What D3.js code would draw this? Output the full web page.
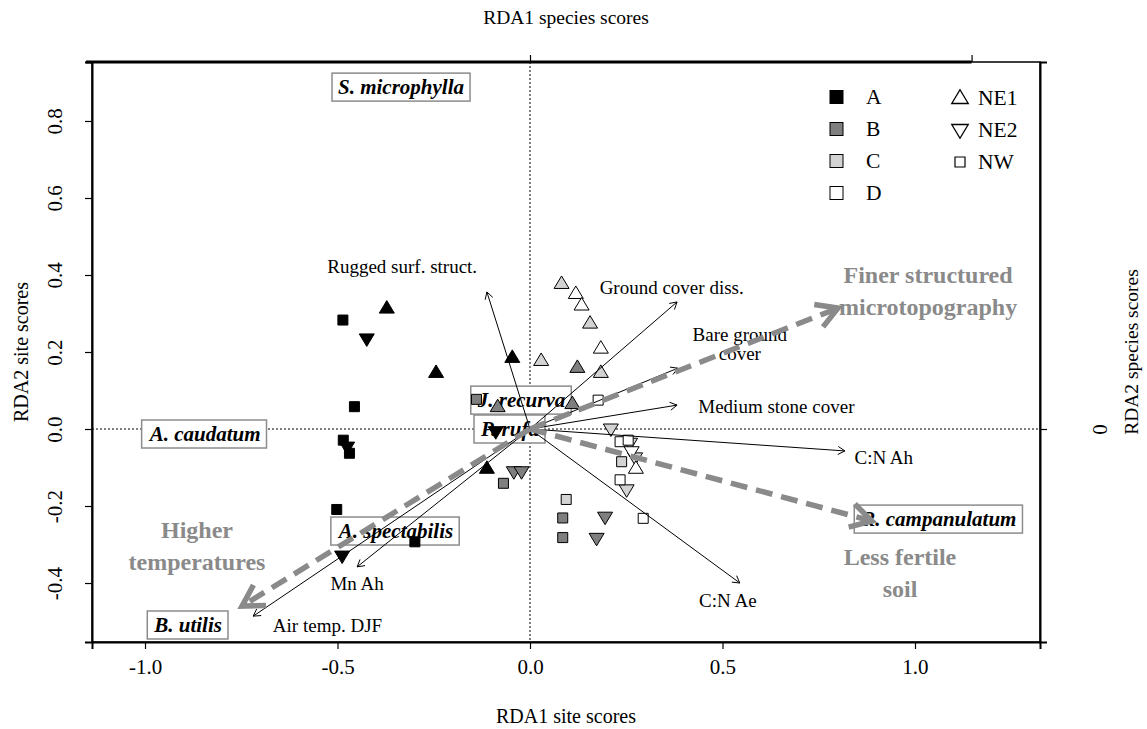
<!DOCTYPE html>
<html><head><meta charset="utf-8">
<script src="https://cdn.jsdelivr.net/npm/d3@7"></script>
<style>
body{margin:0;background:#fff}
text{font-family:"Liberation Serif","Times New Roman",serif;fill:#000}
</style>
</head><body>
<svg id="c" width="1147" height="729"></svg>
<script>
// ---- data ----
const siteX = [-0.486,-0.372,-0.424,-0.244,-0.046,-0.456,-0.485,-0.475,-0.469,-0.089,-0.112,-0.502,-0.299,-0.488,
  -0.139,-0.084,0.110,0.123,-0.042,-0.022,-0.069,0.085,0.085,0.195,0.173,
  0.029,0.082,0.156,0.184,0.210,0.094,0.251,0.238,0.260,0.273,
  0.119,0.134,0.184,0.177,0.234,0.255,0.264,0.275,0.234,0.294];
const siteY = [0.283,0.314,0.234,0.147,0.186,0.058,-0.029,-0.047,-0.063,-0.007,-0.102,-0.209,-0.293,-0.330,
  0.077,0.058,0.066,0.160,-0.111,-0.111,-0.141,-0.231,-0.282,-0.229,-0.284,
  0.178,0.378,0.275,0.147,0.000,-0.183,-0.158,-0.085,-0.037,-0.075,
  0.352,0.322,0.210,0.075,-0.033,-0.029,-0.059,-0.102,-0.132,-0.232];
const siteGroup = ["A","A","A","A","A","A","A","A","A","A","A","A","A","A",
  "B","B","B","B","B","B","B","B","B","B","B",
  "C","C","C","C","C","C","C","C","C","C",
  "D","D","D","D","D","D","D","D","D","D"];
const siteAspect = ["NW","NE1","NE2","NE1","NE1","NW","NW","NE2","NW","NE2","NE1","NW","NW","NE2",
  "NW","NE1","NE1","NE1","NE2","NE2","NW","NW","NW","NE2","NE2",
  "NE1","NE1","NE1","NE1","NE2","NW","NE2","NW","NE2","NE2",
  "NE1","NE1","NE1","NW","NW","NW","NE2","NE1","NW","NW"];

const envNames = ["Rugged surf. struct.","Ground cover diss.","Bare ground|cover","Medium stone cover","C:N Ah","C:N Ae","Mn Ah","Air temp. DJF"];
const envX = [-0.112,0.382,0.384,0.382,0.818,0.545,-0.449,-0.719];
const envY = [0.356,0.330,0.158,0.062,-0.057,-0.400,-0.358,-0.486];
const envLabX = [-0.332,0.368,0.545,0.640,0.919,0.514,-0.449,-0.526];
const envLabY = [0.423,0.369,0.222,0.060,-0.073,-0.444,-0.400,-0.509];

const speciesNames = ["S. microphylla","A. caudatum","J. recurva","P. rufa","A. spectabilis","B. utilis","R. campanulatum"];
const speciesX = [-0.335,-0.844,-0.022,-0.052,-0.348,-0.888,1.062];
const speciesY = [0.888,-0.013,0.075,0.000,-0.265,-0.509,-0.234];

const trendNames = ["Finer structured|microtopography","Less fertile|soil","Higher|temperatures"];
const trendX = [0.800,0.888,-0.748];
const trendY = [0.314,-0.239,-0.460];
const trendLabX = [1.034,0.961,-0.865];
const trendLabY = [0.358,-0.374,-0.304];

const xTicks = [-1.0,-0.5,0.0,0.5,1.0];
const yTicks = [-0.4,-0.2,0.0,0.2,0.4,0.6,0.8];
const topTicks = [0.0,1.147];
const rightTicks = [0.0];

const groupFill = {A:"#000000",B:"#7f7f7f",C:"#d3d3d3",D:"#ffffff"};
const legendGroups = ["A","B","C","D"];
const legendAspects = ["NE1","NE2","NW"];

// ---- layout ----
const L=92,R=1040,T=62,B=642;
const x = d3.scaleLinear().domain([-1.1377,1.3247]).range([L,R]);
const y = d3.scaleLinear().domain([-0.5532,0.9532]).range([B,T]);
const svg = d3.select("#c");
const gray = "#8a8a8a";
const fmt = d => d3.format(".1f")(d).replace("\u2212","-");

function shapePath(a){
  if(a==="NE1") return "M0,-7.5L7.5,5L-7.5,5Z";
  if(a==="NE2") return "M0,7.5L7.5,-5L-7.5,-5Z";
  return "M-5,-5H5V5H-5Z";
}

// zero lines
svg.append("line").attr("x1",x(0)).attr("x2",x(0)).attr("y1",T).attr("y2",B)
  .attr("stroke","#000").attr("stroke-width",1).attr("stroke-dasharray","2,2");
svg.append("line").attr("x1",L).attr("x2",R).attr("y1",y(0)).attr("y2",y(0))
  .attr("stroke","#000").attr("stroke-width",1).attr("stroke-dasharray","2,2");

// axes
const fs = 21;
const gx = svg.append("g").attr("transform",`translate(0,${B})`)
  .call(d3.axisBottom(x).tickValues(xTicks).tickFormat(fmt).tickSize(7).tickPadding(10));
const gy = svg.append("g").attr("transform",`translate(${L},0)`)
  .call(d3.axisLeft(y).tickValues(yTicks).tickFormat(fmt).tickSize(7).tickPadding(0));
gy.selectAll(".tick text").attr("transform","rotate(-90)").attr("x",0).attr("y",-30)
  .attr("dy","0").attr("text-anchor","middle").attr("dominant-baseline","auto");
const gt = svg.append("g").attr("transform",`translate(0,${T})`)
  .call(d3.axisTop(x).tickValues(topTicks).tickSize(7).tickFormat(""));
const gr = svg.append("g").attr("transform",`translate(${R},0)`)
  .call(d3.axisRight(y).tickValues(rightTicks).tickSize(7).tickFormat(d3.format("d")));
gr.selectAll(".tick text").attr("transform","rotate(-90)").attr("x",0).attr("y",67)
  .attr("dy","0").attr("text-anchor","middle").attr("dominant-baseline","auto");
[gx,gy,gt,gr].forEach(g=>{
  g.selectAll("text").style("font-family","Liberation Serif").style("font-size",fs+"px").attr("fill","#000");
  g.selectAll("line").attr("stroke","#000").attr("stroke-width",1.2);
  g.select(".domain").attr("stroke","#000").attr("stroke-width",2);
});
gt.select(".domain").attr("d",`M${L-6},0H${x(topTicks[1])}`).attr("stroke-width",3);

// box
svg.append("rect").attr("x",L).attr("y",T).attr("width",R-L).attr("height",B-T)
  .attr("fill","none").attr("stroke","#000").attr("stroke-width",1.5);

// axis titles
svg.append("text").attr("x",(L+R)/2).attr("y",716).attr("text-anchor","middle")
  .attr("dominant-baseline","central").style("font-size","20px").text("RDA1 site scores");
svg.append("text").attr("x",(L+R)/2).attr("y",17).attr("text-anchor","middle")
  .attr("dominant-baseline","central").style("font-size","19.5px").text("RDA1 species scores");
svg.append("text").attr("transform",`translate(21,${(T+B)/2}) rotate(-90)`).attr("text-anchor","middle")
  .attr("dominant-baseline","central").style("font-size","20px").text("RDA2 site scores");
svg.append("text").attr("transform",`translate(1131,${(T+B)/2}) rotate(-90)`).attr("text-anchor","middle")
  .attr("dominant-baseline","central").style("font-size","19.5px").text("RDA2 species scores");

// species boxes
const sg = svg.append("g");
speciesNames.forEach((n,i)=>{
  const g = sg.append("g");
  const t = g.append("text").attr("x",x(speciesX[i])).attr("y",y(speciesY[i]))
    .attr("text-anchor","middle").attr("dominant-baseline","central")
    .style("font-size","21px").style("font-weight","bold").style("font-style","italic").text(n);
  const bb = t.node().getBBox();
  g.insert("rect","text").attr("x",bb.x-6).attr("y",y(speciesY[i])-14).attr("width",bb.width+12).attr("height",28)
    .attr("fill","#fff").attr("stroke","#8c8c8c").attr("stroke-width",1.5);
});

// sites
svg.append("g").selectAll("path").data(siteX.map((d,i)=>i)).join("path")
  .attr("transform",i=>`translate(${x(siteX[i])},${y(siteY[i])})`)
  .attr("d",i=>shapePath(siteAspect[i]))
  .attr("fill",i=>groupFill[siteGroup[i]]).attr("stroke","#000").attr("stroke-width",1);

// env arrows
function arrowHead(g,x0,y0,x1,y1,len,ang,col,w){
  const a = Math.atan2(y1-y0,x1-x0);
  const p1=[x1-len*Math.cos(a-ang), y1-len*Math.sin(a-ang)];
  const p2=[x1-len*Math.cos(a+ang), y1-len*Math.sin(a+ang)];
  g.append("path").attr("d",`M${p1}L${x1},${y1}L${p2}`).attr("fill","none")
    .attr("stroke",col).attr("stroke-width",w).attr("stroke-linejoin","miter");
}
const eg = svg.append("g");
envNames.forEach((n,i)=>{
  const x0=x(0),y0=y(0),x1=x(envX[i]),y1=y(envY[i]);
  eg.append("line").attr("x1",x0).attr("y1",y0).attr("x2",x1).attr("y2",y1).attr("stroke","#000").attr("stroke-width",1);
  arrowHead(eg,x0,y0,x1,y1,8,Math.PI/6,"#000",1);
  const lines = n.split("|");
  const t = eg.append("text").attr("x",x(envLabX[i])).attr("y",y(envLabY[i])-(lines.length-1)*9.5)
    .attr("text-anchor","middle").attr("dominant-baseline","central").style("font-size","19px");
  lines.forEach((s,k)=>t.append("tspan").attr("x",x(envLabX[i])).attr("dy",k?19:0).text(s));
});

// trend arrows
const tg = svg.append("g");
trendNames.forEach((n,i)=>{
  const x0=x(0),y0=y(0),x1=x(trendX[i]),y1=y(trendY[i]);
  const a=Math.atan2(y1-y0,x1-x0);
  tg.append("line").attr("x1",x0).attr("y1",y0).attr("x2",x1-4*Math.cos(a)).attr("y2",y1-4*Math.sin(a))
    .attr("stroke",gray).attr("stroke-width",5.5).attr("stroke-dasharray","17,9");
  arrowHead(tg,x0,y0,x1,y1,24,Math.PI/6,gray,5.5);
  const lines=n.split("|");
  const t = tg.append("text").attr("x",x(trendLabX[i])).attr("y",y(trendLabY[i])-(lines.length-1)*16)
    .attr("text-anchor","middle").attr("dominant-baseline","central")
    .style("font-size","24px").style("font-weight","bold").style("fill",gray);
  lines.forEach((s,k)=>t.append("tspan").attr("x",x(trendLabX[i])).attr("dy",k?32:0).text(s));
});

// legend
const lg = svg.append("g");
legendGroups.forEach((k,i)=>{
  const cy = 97+i*32;
  lg.append("rect").attr("x",830).attr("y",cy-6.5).attr("width",13).attr("height",13)
    .attr("fill",groupFill[k]).attr("stroke","#000").attr("stroke-width",1);
  lg.append("text").attr("x",866).attr("y",cy).attr("dominant-baseline","central").style("font-size","21.5px").text(k);
});
legendAspects.forEach((k,i)=>{
  const cy = 98+i*32;
  const sc = k==="NW"?1:1.1;
  lg.append("path").attr("transform",`translate(960,${cy}) scale(${sc})`).attr("d",shapePath(k))
    .attr("fill","#fff").attr("stroke","#000").attr("stroke-width",1.2);
  lg.append("text").attr("x",978).attr("y",cy).attr("dominant-baseline","central").style("font-size","21.5px").text(k);
});
</script>
</body></html>
